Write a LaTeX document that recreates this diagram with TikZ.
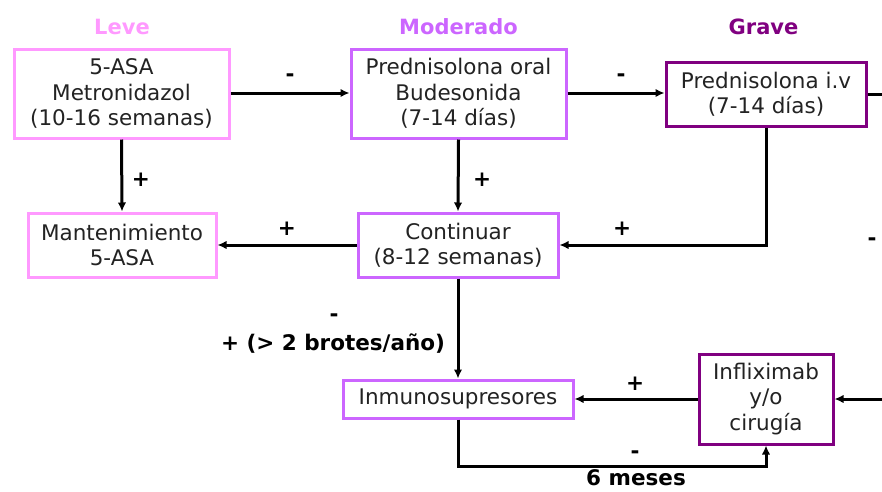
\documentclass[tikz,border=0pt]{standalone}
\usepackage{fontspec}
\setmainfont{DejaVu Sans}
\usetikzlibrary{arrows.meta}
\definecolor{leve}{RGB}{255,153,255}
\definecolor{mod}{RGB}{204,102,255}
\definecolor{grave}{RGB}{128,0,128}
\definecolor{txt}{RGB}{35,35,35}
\tikzset{
  box/.style={draw, line width=3pt, fill=white, align=center, text=txt,
    font=\fontsize{21.5}{25.5}\selectfont, inner sep=0pt},
  head/.style={font=\fontsize{21}{25}\selectfont\bfseries},
  lbl/.style={font=\fontsize{21.5}{25}\selectfont\bfseries, text=black, inner sep=0pt},
  arr/.style={line width=3pt, -{Latex[length=9pt,width=8.5pt]}},
  ln/.style={line width=3pt}
}
\begin{document}
\begin{tikzpicture}[x=1pt,y=-1pt]
\useasboundingbox (0,0) rectangle (882,491);
\clip (0,0) rectangle (882,491);
% headings
\node[head, text=leve] (hleve) at (122,27) {Leve};
\node[head, text=mod] (hmod) at (458.5,27) {Moderado};
\node[head, text=grave] (hgrave) at (763.5,27) {Grave};
% boxes
\node[box, draw=leve, minimum width=215pt, minimum height=89pt] (leve) at (121.5,93.5)
  {5-ASA\\Metronidazol\\(10-16 semanas)};
\node[box, draw=mod, minimum width=215pt, minimum height=89pt] (mod) at (458.5,93.5)
  {Prednisolona oral\\Budesonida\\(7-14 días)};
\node[box, draw=grave, minimum width=200pt, minimum height=64pt] (grave) at (766,94)
  {Prednisolona i.v\\(7-14 días)};
\node[box, draw=leve, minimum width=188pt, minimum height=64pt] (mant) at (122,245)
  {Mantenimiento\\5-ASA};
\node[box, draw=mod, minimum width=200pt, minimum height=64pt] (cont) at (458,245)
  {Continuar\\(8-12 semanas)};
\node[box, draw=mod, minimum width=230pt, minimum height=38pt] (inm) at (458,399)
  {Inmunosupresores};
\node[box, draw=grave, minimum width=134pt, minimum height=90pt] (infl) at (766,399)
  {Infliximab\\y/o\\cirugía};
% free-end coordinates
\coordinate (rt1) at (900,94);
\coordinate (rt2) at (900,399);
\coordinate (b6) at (612,466);
% connectors
\draw[arr] (leve.east |- 0,93) -- (mod.west |- 0,93);
\draw[arr] (mod.east |- 0,93) -- (grave.west |- 0,93);
\draw[ln] (grave.east) -- (rt1) -- (rt2);
\draw[arr] (rt2) -- (infl.east);
\draw[arr] (leve.south) -- (mant.north);
\draw[arr] (mod.south) -- (cont.north);
\draw[arr] (grave.south) |- (cont.east);
\draw[arr] (cont.west) -- (mant.east);
\draw[arr] (cont.south) -- (inm.north);
\draw[arr] (infl.west) -- (inm.east);
\draw[arr] (inm.south) |- (b6) -| (infl.south);
% labels
\node[lbl] (l1) at (290,78) {-};
\node[lbl] (l2) at (621,78) {-};
\node[lbl] (l3) at (141,180) {+};
\node[lbl] (l4) at (482,180) {+};
\node[lbl] (l5) at (287,229) {+};
\node[lbl] (l6) at (622,229) {+};
\node[lbl] (l7) at (872,242) {-};
\node[lbl] (l8) at (334,318) {-};
\node[lbl] (l9) at (333,344) {+ (> 2 brotes/año)};
\node[lbl] (l10) at (635,384) {+};
\node[lbl] (l11) at (635,455) {-};
\node[lbl, anchor=base, text depth=0pt] (l12) at (636,485.5) {6 meses};
\end{tikzpicture}
\end{document}
